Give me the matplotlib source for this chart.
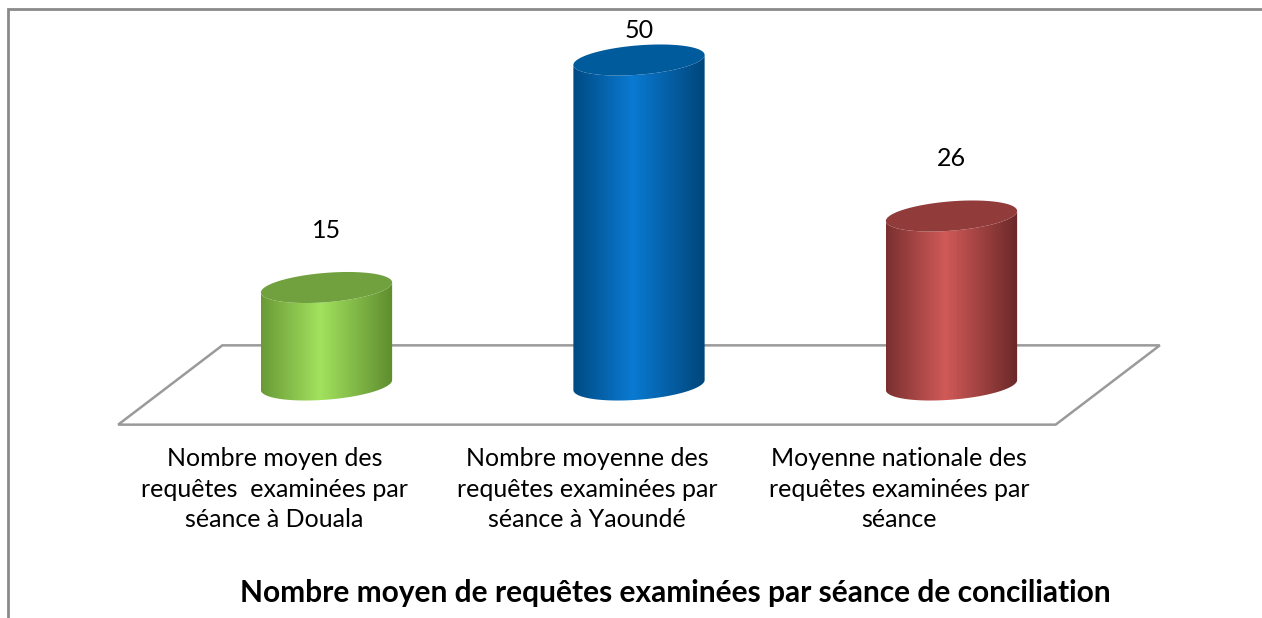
import numpy as np
import matplotlib
matplotlib.use('Agg')
import matplotlib.pyplot as plt
from matplotlib.patches import Polygon, Rectangle
from matplotlib.colors import LinearSegmentedColormap

categories = ['Nombre moyen des\nrequêtes  examinées par\nséance à Douala',
              'Nombre moyenne des\nrequêtes examinées par\nséance à Yaoundé',
              'Moyenne nationale des\nrequêtes examinées par\nséance']
values = [15, 50, 26]
title = 'Nombre moyen de requêtes examinées par séance de conciliation'

# body gradient (left edge, highlight, right edge) and top colour
body_colors = [('#6a9a36', '#a2e25e', '#5f8c2e'),
               ('#004a82', '#0a7ad2', '#00457a'),
               ('#7a3030', '#d05a58', '#6a2828')]
top_colors = ['#71a13f', '#005b9c', '#913c3b']

plt.rcParams['font.family'] = ['Lato', 'DejaVu Sans']

W, H = 1262, 618
fig = plt.figure(figsize=(W / 100, H / 100), dpi=100)
ax = fig.add_axes([0, 0, 1, 1])
ax.axis('off')

# pixel scale of the pseudo-3d axes
xunit, yunit = 312.5, 6.5
x0_px, y0_px = 326.5, 385
xlim = (-x0_px / xunit, (W - x0_px) / xunit)
ylim = (-(H - y0_px) / yunit, y0_px / yunit)

# chart frame
fig.patches.append(Rectangle((8 / W, -0.1), 1.2, (H - 9.5) / H + 0.1, transform=fig.transFigure,
                             fill=False, ec='#8a8a8a', lw=2, zorder=0))

# floor
depth_x, depth_y = 1 / 6, 6.1
n = len(values)
floor = [(-0.5 - depth_x, -depth_y), (n - 0.5 - depth_x, -depth_y),
         (n - 0.5 + depth_x, depth_y), (-0.5 + depth_x, depth_y)]
ax.add_patch(Polygon(floor, closed=True, fc='white', ec='#9a9a9a', lw=1.8, zorder=1))

half_w = 0.21
b, k = 2.26, 0.77
t = np.linspace(0, 2 * np.pi, 300)
for i, v in enumerate(values):
    ex = i + half_w * np.cos(t)
    ey = b * np.sin(t) + k * np.cos(t)
    lower = (t >= np.pi)
    lx, ly = ex[lower], ey[lower]
    body = np.vstack([np.column_stack([lx, ly]),
                      np.column_stack([lx[::-1], ly[::-1] + v])])
    poly = Polygon(body, closed=True, fc='none', ec='none', zorder=2)
    ax.add_patch(poly)
    cmap = LinearSegmentedColormap.from_list('c%d' % i, [(0, body_colors[i][0]),
                                                        (0.45, body_colors[i][1]),
                                                        (1, body_colors[i][2])])
    grad = np.linspace(0, 1, 256).reshape(1, -1)
    im = ax.imshow(grad, cmap=cmap, aspect='auto', interpolation='bicubic',
                   extent=(i - half_w, i + half_w, -b - 1, v + b + 1), zorder=2)
    im.set_clip_path(poly)
    ax.add_patch(Polygon(np.column_stack([ex, ey + v]), closed=True,
                         fc=top_colors[i], ec='none', zorder=3))
    ax.text(i, min(v + 8.8, ylim[1] - 4.7), str(v), ha='center', va='center',
            fontsize=18, color='black', zorder=4)
    ax.text(i - depth_x, -9.6, categories[i], ha='center', va='top',
            fontsize=18, linespacing=1.38, color='black')

ax.set_xlim(xlim)
ax.set_ylim(ylim)

fig.text(675 / W, 1 - 593 / H, title, ha='center', va='center',
         fontsize=21.5, fontweight='bold')

fig.savefig('out.png', dpi=100, facecolor='white')
